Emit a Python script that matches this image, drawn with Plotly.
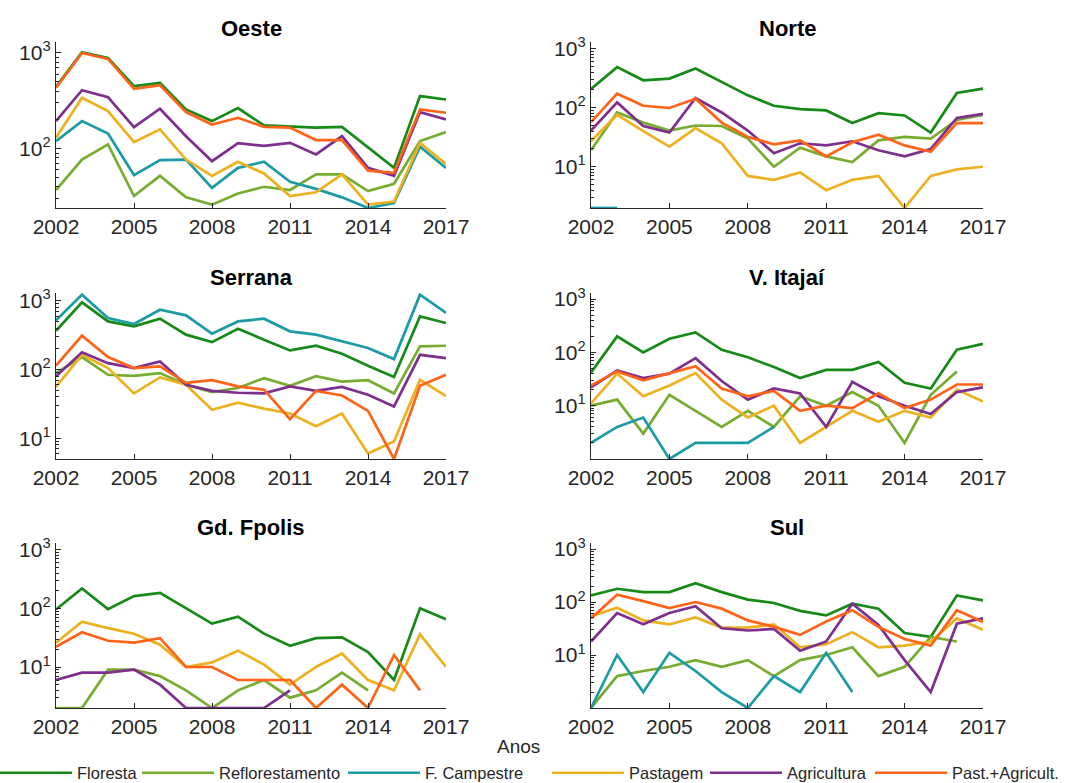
import math
import plotly.graph_objects as go

years = list(range(2002, 2018))
x_ticks = [2002, 2005, 2008, 2011, 2014, 2017]
series_names = ["Floresta", "Reflorestamento", "F. Campestre", "Pastagem", "Agricultura", "Past.+Agricult."]
series_colors = ["#168a16", "#77ac30", "#1b9ba3", "#edb120", "#7e2f8e", "#ff6317"]
region_names = ["Oeste", "Norte", "Serrana", "V. Itajaí", "Gd. Fpolis", "Sul"]
N = None

# ---- Oeste ----
oeste_floresta = [442, 1015, 887, 450, 487, 257, 194, 265, 175, 172, 166, 169, 104, 63, 354, 326]
oeste_reflorestamento = [37, 77, 111, 32, 52, 31, 26, 34, 40, 37, 54, 54, 36, 43, 120, 149]
oeste_campestre = [120, 194, 144, 53, 76, 77, 39, 63, 73, 45, 38, 31, 24, 27, 105, 63]
oeste_pastagem = [130, 340, 247, 117, 159, 77, 52, 73, 55, 32, 35, 54, 26, 28, 115, 69]
oeste_agricultura = [194, 408, 345, 168, 261, 135, 74, 114, 107, 115, 87, 135, 63, 52, 241, 202]
oeste_pastagric = [432, 1000, 866, 422, 460, 241, 179, 210, 169, 166, 123, 123, 59, 56, 257, 237]

# ---- Norte ----
norte_floresta = [208, 487, 292, 312, 462, 274, 162, 108, 95, 90, 55, 81, 74, 38, 178, 211]
norte_reflorestamento = [19, 83, 56, 41, 50, 49, 30, 10, 21, 15, 12, 28, 32, 30, 62, 76]
norte_campestre = [2, 2, N, N, N, N, N, N, N, N, N, N, N, N, N, N]
norte_pastagem = [27, 76, 40, 22, 45, 25, 7, 6, 8, 4, 6, 7, 2, 7, 9, 10]
norte_agricultura = [41, 123, 49, 38, 146, 83, 41, 17, 25, 23, 27, 19, 15, 20, 67, 79]
norte_pastagric = [57, 173, 108, 99, 142, 56, 32, 24, 28, 15, 26, 35, 23, 18, 55, 55]

# ---- Serrana ----
serrana_floresta = [367, 950, 502, 425, 550, 322, 251, 393, 272, 190, 222, 170, 114, 78, 594, 475]
serrana_reflorestamento = [89, 152, 84, 81, 89, 60, 47, 54, 75, 58, 80, 67, 70, 45, 217, 222]
serrana_campestre = [520, 1230, 562, 460, 743, 615, 333, 502, 550, 360, 322, 257, 206, 142, 1230, 665]
serrana_pastagem = [56, 164, 105, 45, 77, 60, 26, 33, 27, 23, 15, 23, 6, 9, 71, 41]
serrana_agricultura = [80, 178, 124, 105, 131, 60, 49, 46, 45, 57, 49, 56, 43, 29, 164, 147]
serrana_pastagric = [114, 311, 152, 105, 111, 64, 70, 57, 51, 19, 49, 42, 25, 5, 58, 84]

# ---- V. Itajaí ----
itajai_floresta = [42, 200, 100, 180, 237, 112, 81, 53, 33, 47, 47, 66, 27, 21, 112, 145]
itajai_reflorestamento = [10, 13, 3, 16, 8, 4, 8, 4, 15, 10, 18, 10, 2, 16, 44, N]
itajai_campestre = [2, 4, 6, 1, 2, 2, 2, 4, N, N, N, N, N, N, N, N]
itajai_pastagem = [11, 40, 15, 24, 41, 13, 6, 10, 2, 4, 8, 5, 8, 6, 20, 12]
itajai_agricultura = [22, 46, 33, 40, 78, 29, 13, 21, 17, 4, 28, 15, 10, 7, 18, 22]
itajai_pastagric = [24, 44, 30, 41, 55, 21, 15, 19, 8, 10, 9, 17, 9, 13, 25, 25]

# ---- Gd. Fpolis ----
fpolis_floresta = [96, 218, 97, 162, 184, 100, 55, 72, 37, 23, 31, 32, 18, 6, 100, 65]
fpolis_reflorestamento = [2, 2, 9, 9, 7, 4, 2, 4, 6, 3, 4, 8, 4, N, N, N]
fpolis_campestre = [N] * 16
fpolis_pastagem = [26, 59, 46, 37, 24, 10, 12, 19, 11, 5, 10, 17, 6, 4, 36, 10]
fpolis_agricultura = [6, 8, 8, 9, 5, 2, 2, 2, 2, 4, N, N, N, N, N, N]
fpolis_pastagric = [22, 39, 28, 26, 31, 10, 10, 6, 6, 6, 2, 5, 2, 16, 4, N]

# ---- Sul ----
sul_floresta = [133, 178, 154, 154, 227, 154, 111, 96, 68, 56, 93, 75, 26, 22, 133, 107]
sul_reflorestamento = [1, 4, 5, 6, 8, 6, 8, 4, 8, 10, 14, 4, 6, 22, 18, N]
sul_campestre = [1, 10, 2, 11, 5, 2, 1, 4, 2, 11, 2, N, N, N, N, N]
sul_pastagem = [54, 78, 45, 38, 51, 33, 33, 38, 14, 16, 27, 14, 15, 18, 49, 30]
sul_agricultura = [18, 62, 38, 62, 83, 32, 29, 31, 12, 18, 93, 37, 8, 2, 39, 49]
sul_pastagric = [49, 137, 104, 77, 100, 75, 45, 34, 24, 43, 70, 34, 20, 15, 70, 42]

y_min = [24, 2, 5, 1, 2, 1]
y_max = 1300
y_tick_vals = [10, 100, 1000]
y_tick_text = ["10<sup>1</sup>", "10<sup>2</sup>", "10<sup>3</sup>"]

regions_data = [
    [oeste_floresta, oeste_reflorestamento, oeste_campestre, oeste_pastagem, oeste_agricultura, oeste_pastagric],
    [norte_floresta, norte_reflorestamento, norte_campestre, norte_pastagem, norte_agricultura, norte_pastagric],
    [serrana_floresta, serrana_reflorestamento, serrana_campestre, serrana_pastagem, serrana_agricultura, serrana_pastagric],
    [itajai_floresta, itajai_reflorestamento, itajai_campestre, itajai_pastagem, itajai_agricultura, itajai_pastagric],
    [fpolis_floresta, fpolis_reflorestamento, fpolis_campestre, fpolis_pastagem, fpolis_agricultura, fpolis_pastagric],
    [sul_floresta, sul_reflorestamento, sul_campestre, sul_pastagem, sul_agricultura, sul_pastagric],
]

W, H = 1077, 783
FONT = "Liberation Sans, Arial, Helvetica, sans-serif"
AX = "#262626"

col_px = [(56, 446), (591, 983)]
row_px = [(42, 208), (293, 459), (543, 708)]
title_px_y = [28, 278, 527]
legend_px_x = [-5, 137, 343, 547, 705, 870]

fig = go.Figure()
layout = dict(
    template="none",
    width=W, height=H,
    margin=dict(l=0, r=0, t=0, b=0, pad=0, autoexpand=False),
    paper_bgcolor="white", plot_bgcolor="white",
    font=dict(family=FONT, color=AX),
    showlegend=True,
    annotations=[],
)

for s in range(len(series_names)):
    key = "legend" if s == 0 else "legend" + str(s + 1)
    layout[key] = dict(orientation="h", x=legend_px_x[s] / W, xanchor="left",
                       y=1 - 773 / H, yanchor="middle",
                       font=dict(size=16.5, color=AX, family=FONT), itemwidth=72,
                       bgcolor="rgba(0,0,0,0)", borderwidth=0)

minor_vals = []
for d in [1, 10, 100, 1000]:
    for m in range(2, 10):
        minor_vals.append(d * m)

for i, rname in enumerate(region_names):
    r, c = divmod(i, 2)
    ax = "" if i == 0 else str(i + 1)
    x0, x1 = col_px[c]
    top, bot = row_px[r]
    xd = [x0 / W, x1 / W]
    yd = [1 - bot / H, 1 - top / H]
    layout["xaxis" + ax] = dict(
        domain=xd, anchor="y" + ax, range=[2002, 2017], tickmode="array", tickvals=x_ticks,
        ticks="inside", ticklen=5, tickwidth=1.2, tickcolor=AX, showline=True, linecolor=AX,
        linewidth=1.3, showgrid=False, zeroline=False, mirror=False, automargin=False,
        tickfont=dict(size=21, color=AX, family=FONT),
    )
    layout["yaxis" + ax] = dict(
        domain=yd, anchor="x" + ax, type="log",
        range=[math.log10(y_min[i]), math.log10(y_max)],
        tickmode="array", tickvals=y_tick_vals, ticktext=y_tick_text,
        ticks="inside", ticklen=5, tickwidth=1.2, tickcolor=AX, showline=True, linecolor=AX,
        linewidth=1.3, showgrid=False, zeroline=False, mirror=False, automargin=False,
        tickfont=dict(size=21, color=AX, family=FONT),
        minor=dict(tickmode="array", tickvals=minor_vals, ticks="inside", ticklen=3,
                   tickwidth=1, tickcolor=AX, showgrid=False),
    )
    layout["annotations"].append(dict(
        text="<b>" + rname + "</b>", x=(xd[0] + xd[1]) / 2, y=1 - title_px_y[r] / H,
        xref="paper", yref="paper", xanchor="center", yanchor="middle", showarrow=False,
        font=dict(size=22, color="black", family=FONT)))
    for s, sname in enumerate(series_names):
        fig.add_trace(go.Scatter(
            x=years, y=regions_data[i][s], mode="lines", name=sname,
            line=dict(color=series_colors[s], width=2.7),
            legendgroup=sname, showlegend=(i == 0),
            legend=("legend" if s == 0 else "legend" + str(s + 1)),
            xaxis="x" + ax, yaxis="y" + ax, connectgaps=False,
        ))

layout["annotations"].append(dict(
    text="Anos", x=518 / W, y=1 - 746 / H, xref="paper", yref="paper",
    xanchor="center", yanchor="middle", showarrow=False,
    font=dict(size=19, color=AX, family=FONT)))

fig.update_layout(**layout)
fig.write_html("out.html", config={"displayModeBar": False},
               post_script="document.body.style.margin='0';")
